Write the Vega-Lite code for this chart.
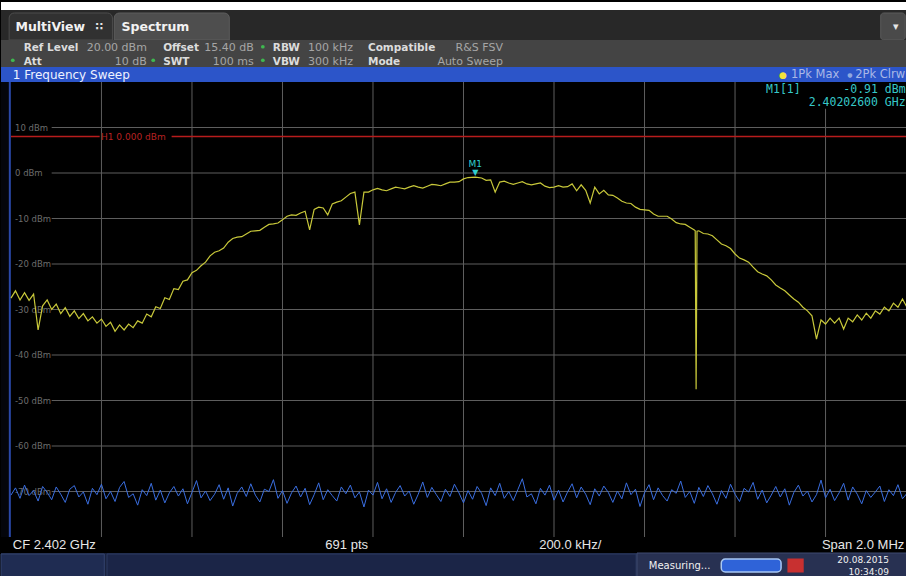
{
  "$schema": "https://vega.github.io/schema/vega-lite/v6.json",
  "padding": 0,
  "spacing": 0,
  "bounds": "flush",
  "background": "#000000",
  "config": {"view": {"stroke": null}, "text": {"font": "DejaVu Sans"}},
  "datasets": {
    "maxhold": [
      {"freq": 2401.00, "dbm": -27.5}, {"freq": 2401.01, "dbm": -25.9}, {"freq": 2401.02, "dbm": -27.9}, {"freq": 2401.03, "dbm": -26.3},
      {"freq": 2401.04, "dbm": -28.0}, {"freq": 2401.05, "dbm": -26.6}, {"freq": 2401.06, "dbm": -34.5}, {"freq": 2401.07, "dbm": -29.2},
      {"freq": 2401.08, "dbm": -27.9}, {"freq": 2401.09, "dbm": -30.0}, {"freq": 2401.10, "dbm": -28.8}, {"freq": 2401.11, "dbm": -30.9},
      {"freq": 2401.12, "dbm": -29.6}, {"freq": 2401.13, "dbm": -31.5}, {"freq": 2401.14, "dbm": -30.3}, {"freq": 2401.15, "dbm": -32.0},
      {"freq": 2401.16, "dbm": -30.9}, {"freq": 2401.17, "dbm": -32.5}, {"freq": 2401.18, "dbm": -31.6}, {"freq": 2401.19, "dbm": -33.0},
      {"freq": 2401.20, "dbm": -32.1}, {"freq": 2401.21, "dbm": -33.7}, {"freq": 2401.22, "dbm": -32.8}, {"freq": 2401.23, "dbm": -34.8},
      {"freq": 2401.24, "dbm": -33.4}, {"freq": 2401.25, "dbm": -34.5}, {"freq": 2401.26, "dbm": -33.2}, {"freq": 2401.27, "dbm": -34.0},
      {"freq": 2401.28, "dbm": -32.5}, {"freq": 2401.29, "dbm": -33.0}, {"freq": 2401.30, "dbm": -31.0}, {"freq": 2401.31, "dbm": -31.6},
      {"freq": 2401.32, "dbm": -29.4}, {"freq": 2401.33, "dbm": -29.8}, {"freq": 2401.34, "dbm": -27.4}, {"freq": 2401.35, "dbm": -27.8},
      {"freq": 2401.36, "dbm": -25.4}, {"freq": 2401.37, "dbm": -25.6}, {"freq": 2401.38, "dbm": -23.8}, {"freq": 2401.39, "dbm": -23.5},
      {"freq": 2401.40, "dbm": -21.9}, {"freq": 2401.41, "dbm": -21.4}, {"freq": 2401.42, "dbm": -20.4}, {"freq": 2401.43, "dbm": -19.6},
      {"freq": 2401.44, "dbm": -18.2}, {"freq": 2401.45, "dbm": -17.4}, {"freq": 2401.46, "dbm": -17.1}, {"freq": 2401.47, "dbm": -16.5},
      {"freq": 2401.48, "dbm": -15.2}, {"freq": 2401.49, "dbm": -14.4}, {"freq": 2401.50, "dbm": -14.1}, {"freq": 2401.51, "dbm": -14.0},
      {"freq": 2401.52, "dbm": -13.4}, {"freq": 2401.53, "dbm": -12.8}, {"freq": 2401.54, "dbm": -12.7}, {"freq": 2401.55, "dbm": -12.6},
      {"freq": 2401.56, "dbm": -11.9}, {"freq": 2401.57, "dbm": -11.3}, {"freq": 2401.58, "dbm": -11.2}, {"freq": 2401.59, "dbm": -11.0},
      {"freq": 2401.60, "dbm": -10.3}, {"freq": 2401.61, "dbm": -9.5}, {"freq": 2401.62, "dbm": -9.2}, {"freq": 2401.63, "dbm": -9.3},
      {"freq": 2401.64, "dbm": -8.8}, {"freq": 2401.65, "dbm": -8.4}, {"freq": 2401.66, "dbm": -12.5}, {"freq": 2401.67, "dbm": -8.0},
      {"freq": 2401.68, "dbm": -7.5}, {"freq": 2401.69, "dbm": -7.7}, {"freq": 2401.70, "dbm": -9.2}, {"freq": 2401.71, "dbm": -6.8},
      {"freq": 2401.72, "dbm": -6.4}, {"freq": 2401.73, "dbm": -6.1}, {"freq": 2401.74, "dbm": -5.3}, {"freq": 2401.75, "dbm": -4.5},
      {"freq": 2401.76, "dbm": -4.2}, {"freq": 2401.77, "dbm": -11.4}, {"freq": 2401.78, "dbm": -4.2}, {"freq": 2401.79, "dbm": -4.2},
      {"freq": 2401.80, "dbm": -3.7}, {"freq": 2401.81, "dbm": -3.4}, {"freq": 2401.82, "dbm": -3.7}, {"freq": 2401.83, "dbm": -3.9},
      {"freq": 2401.84, "dbm": -3.5}, {"freq": 2401.85, "dbm": -3.1}, {"freq": 2401.86, "dbm": -3.3}, {"freq": 2401.87, "dbm": -3.5},
      {"freq": 2401.88, "dbm": -3.1}, {"freq": 2401.89, "dbm": -2.8}, {"freq": 2401.90, "dbm": -3.1}, {"freq": 2401.91, "dbm": -3.3},
      {"freq": 2401.92, "dbm": -2.9}, {"freq": 2401.93, "dbm": -2.5}, {"freq": 2401.94, "dbm": -2.6}, {"freq": 2401.95, "dbm": -2.8},
      {"freq": 2401.96, "dbm": -2.4}, {"freq": 2401.97, "dbm": -2.0}, {"freq": 2401.98, "dbm": -2.0}, {"freq": 2401.99, "dbm": -1.9},
      {"freq": 2402.00, "dbm": -1.3}, {"freq": 2402.01, "dbm": -1.0}, {"freq": 2402.026, "dbm": -0.91}, {"freq": 2402.04, "dbm": -1.1},
      {"freq": 2402.05, "dbm": -1.6}, {"freq": 2402.06, "dbm": -1.5}, {"freq": 2402.07, "dbm": -4.2}, {"freq": 2402.08, "dbm": -2.0},
      {"freq": 2402.09, "dbm": -1.8}, {"freq": 2402.10, "dbm": -2.2}, {"freq": 2402.11, "dbm": -2.5}, {"freq": 2402.12, "dbm": -2.2},
      {"freq": 2402.13, "dbm": -1.9}, {"freq": 2402.14, "dbm": -2.4}, {"freq": 2402.15, "dbm": -2.6}, {"freq": 2402.16, "dbm": -2.4},
      {"freq": 2402.17, "dbm": -2.2}, {"freq": 2402.18, "dbm": -2.9}, {"freq": 2402.19, "dbm": -3.2}, {"freq": 2402.20, "dbm": -3.1},
      {"freq": 2402.21, "dbm": -2.8}, {"freq": 2402.22, "dbm": -3.1}, {"freq": 2402.23, "dbm": -3.0}, {"freq": 2402.24, "dbm": -2.4},
      {"freq": 2402.25, "dbm": -3.9}, {"freq": 2402.26, "dbm": -2.6}, {"freq": 2402.27, "dbm": -3.8}, {"freq": 2402.28, "dbm": -6.6},
      {"freq": 2402.29, "dbm": -3.1}, {"freq": 2402.30, "dbm": -4.6}, {"freq": 2402.31, "dbm": -3.8}, {"freq": 2402.32, "dbm": -4.8},
      {"freq": 2402.33, "dbm": -4.9}, {"freq": 2402.34, "dbm": -5.5}, {"freq": 2402.35, "dbm": -6.2}, {"freq": 2402.36, "dbm": -6.6},
      {"freq": 2402.37, "dbm": -6.7}, {"freq": 2402.38, "dbm": -7.5}, {"freq": 2402.39, "dbm": -8.0}, {"freq": 2402.40, "dbm": -8.1},
      {"freq": 2402.41, "dbm": -8.2}, {"freq": 2402.42, "dbm": -9.0}, {"freq": 2402.43, "dbm": -9.5}, {"freq": 2402.44, "dbm": -9.5},
      {"freq": 2402.45, "dbm": -9.5}, {"freq": 2402.46, "dbm": -10.1}, {"freq": 2402.47, "dbm": -10.9}, {"freq": 2402.48, "dbm": -11.2},
      {"freq": 2402.49, "dbm": -11.3}, {"freq": 2402.50, "dbm": -11.9}, {"freq": 2402.51, "dbm": -12.5},
      {"freq": 2402.512, "dbm": -12.7}, {"freq": 2402.514, "dbm": -47.5}, {"freq": 2402.516, "dbm": -12.8}, {"freq": 2402.52, "dbm": -12.7},
      {"freq": 2402.53, "dbm": -13.3}, {"freq": 2402.54, "dbm": -13.4}, {"freq": 2402.55, "dbm": -13.8}, {"freq": 2402.56, "dbm": -14.7},
      {"freq": 2402.57, "dbm": -15.6}, {"freq": 2402.58, "dbm": -16.0}, {"freq": 2402.59, "dbm": -16.6}, {"freq": 2402.60, "dbm": -17.8},
      {"freq": 2402.61, "dbm": -18.7}, {"freq": 2402.62, "dbm": -19.1}, {"freq": 2402.63, "dbm": -19.6}, {"freq": 2402.64, "dbm": -20.7},
      {"freq": 2402.65, "dbm": -21.7}, {"freq": 2402.66, "dbm": -22.2}, {"freq": 2402.67, "dbm": -22.6}, {"freq": 2402.68, "dbm": -23.5},
      {"freq": 2402.69, "dbm": -24.6}, {"freq": 2402.70, "dbm": -25.3}, {"freq": 2402.71, "dbm": -25.9}, {"freq": 2402.72, "dbm": -26.8},
      {"freq": 2402.73, "dbm": -27.7}, {"freq": 2402.74, "dbm": -28.4}, {"freq": 2402.75, "dbm": -29.5}, {"freq": 2402.76, "dbm": -30.3},
      {"freq": 2402.77, "dbm": -31.4}, {"freq": 2402.78, "dbm": -36.5}, {"freq": 2402.79, "dbm": -32.3}, {"freq": 2402.80, "dbm": -33.2},
      {"freq": 2402.81, "dbm": -31.9}, {"freq": 2402.82, "dbm": -33.0}, {"freq": 2402.83, "dbm": -31.9}, {"freq": 2402.84, "dbm": -34.3},
      {"freq": 2402.85, "dbm": -31.9}, {"freq": 2402.86, "dbm": -32.7}, {"freq": 2402.87, "dbm": -31.2}, {"freq": 2402.88, "dbm": -32.3},
      {"freq": 2402.89, "dbm": -30.8}, {"freq": 2402.90, "dbm": -31.9}, {"freq": 2402.91, "dbm": -30.3}, {"freq": 2402.92, "dbm": -31.0},
      {"freq": 2402.93, "dbm": -29.5}, {"freq": 2402.94, "dbm": -30.3}, {"freq": 2402.95, "dbm": -28.6}, {"freq": 2402.96, "dbm": -29.5},
      {"freq": 2402.97, "dbm": -27.7}, {"freq": 2402.98, "dbm": -29.5}, {"freq": 2402.99, "dbm": -28.0}, {"freq": 2403.00, "dbm": -28.5}
    ],
    "clearwrite": [
      {"freq": 2401.00, "dbm": -70.8}, {"freq": 2401.01, "dbm": -69.2}, {"freq": 2401.02, "dbm": -71.5}, {"freq": 2401.03, "dbm": -68.6}, {"freq": 2401.04, "dbm": -70.9},
      {"freq": 2401.05, "dbm": -69.8}, {"freq": 2401.06, "dbm": -72.1}, {"freq": 2401.07, "dbm": -68.9}, {"freq": 2401.08, "dbm": -70.2}, {"freq": 2401.09, "dbm": -71.8},
      {"freq": 2401.10, "dbm": -69.0}, {"freq": 2401.11, "dbm": -70.6}, {"freq": 2401.12, "dbm": -72.4}, {"freq": 2401.13, "dbm": -69.5}, {"freq": 2401.14, "dbm": -68.7},
      {"freq": 2401.15, "dbm": -71.2}, {"freq": 2401.16, "dbm": -70.1}, {"freq": 2401.17, "dbm": -72.8}, {"freq": 2401.18, "dbm": -69.3}, {"freq": 2401.19, "dbm": -70.7},
      {"freq": 2401.20, "dbm": -68.4}, {"freq": 2401.21, "dbm": -71.6}, {"freq": 2401.22, "dbm": -70.0}, {"freq": 2401.23, "dbm": -72.2}, {"freq": 2401.24, "dbm": -69.1},
      {"freq": 2401.25, "dbm": -67.8}, {"freq": 2401.26, "dbm": -71.3}, {"freq": 2401.27, "dbm": -70.5}, {"freq": 2401.28, "dbm": -73.0}, {"freq": 2401.29, "dbm": -69.6},
      {"freq": 2401.30, "dbm": -70.9}, {"freq": 2401.31, "dbm": -68.2}, {"freq": 2401.32, "dbm": -71.9}, {"freq": 2401.33, "dbm": -69.7}, {"freq": 2401.34, "dbm": -72.5},
      {"freq": 2401.35, "dbm": -70.3}, {"freq": 2401.36, "dbm": -68.9}, {"freq": 2401.37, "dbm": -71.0}, {"freq": 2401.38, "dbm": -69.4}, {"freq": 2401.39, "dbm": -72.7},
      {"freq": 2401.40, "dbm": -70.2}, {"freq": 2401.41, "dbm": -67.6}, {"freq": 2401.42, "dbm": -71.4}, {"freq": 2401.43, "dbm": -69.9}, {"freq": 2401.44, "dbm": -72.0},
      {"freq": 2401.45, "dbm": -70.6}, {"freq": 2401.46, "dbm": -68.5}, {"freq": 2401.47, "dbm": -71.7}, {"freq": 2401.48, "dbm": -69.2}, {"freq": 2401.49, "dbm": -73.2},
      {"freq": 2401.50, "dbm": -70.4}, {"freq": 2401.51, "dbm": -69.0}, {"freq": 2401.52, "dbm": -71.1}, {"freq": 2401.53, "dbm": -68.3}, {"freq": 2401.54, "dbm": -70.8},
      {"freq": 2401.55, "dbm": -72.3}, {"freq": 2401.56, "dbm": -69.5}, {"freq": 2401.57, "dbm": -70.0}, {"freq": 2401.58, "dbm": -67.4}, {"freq": 2401.59, "dbm": -71.5},
      {"freq": 2401.60, "dbm": -69.8}, {"freq": 2401.61, "dbm": -72.6}, {"freq": 2401.62, "dbm": -70.3}, {"freq": 2401.63, "dbm": -68.8}, {"freq": 2401.64, "dbm": -71.2},
      {"freq": 2401.65, "dbm": -69.3}, {"freq": 2401.66, "dbm": -72.9}, {"freq": 2401.67, "dbm": -70.7}, {"freq": 2401.68, "dbm": -68.1}, {"freq": 2401.69, "dbm": -71.8},
      {"freq": 2401.70, "dbm": -69.6}, {"freq": 2401.71, "dbm": -70.9}, {"freq": 2401.72, "dbm": -72.1}, {"freq": 2401.73, "dbm": -69.0}, {"freq": 2401.74, "dbm": -70.5},
      {"freq": 2401.75, "dbm": -68.6}, {"freq": 2401.76, "dbm": -71.4}, {"freq": 2401.77, "dbm": -70.1}, {"freq": 2401.78, "dbm": -73.4}, {"freq": 2401.79, "dbm": -69.7},
      {"freq": 2401.80, "dbm": -70.8}, {"freq": 2401.81, "dbm": -68.0}, {"freq": 2401.82, "dbm": -71.6}, {"freq": 2401.83, "dbm": -69.4}, {"freq": 2401.84, "dbm": -72.4},
      {"freq": 2401.85, "dbm": -70.2}, {"freq": 2401.86, "dbm": -68.7}, {"freq": 2401.87, "dbm": -71.0}, {"freq": 2401.88, "dbm": -69.9}, {"freq": 2401.89, "dbm": -72.8},
      {"freq": 2401.90, "dbm": -70.6}, {"freq": 2401.91, "dbm": -67.9}, {"freq": 2401.92, "dbm": -71.3}, {"freq": 2401.93, "dbm": -69.1}, {"freq": 2401.94, "dbm": -70.7},
      {"freq": 2401.95, "dbm": -72.2}, {"freq": 2401.96, "dbm": -69.5}, {"freq": 2401.97, "dbm": -71.1}, {"freq": 2401.98, "dbm": -68.4}, {"freq": 2401.99, "dbm": -70.3},
      {"freq": 2402.00, "dbm": -72.5}, {"freq": 2402.01, "dbm": -69.8}, {"freq": 2402.02, "dbm": -71.7}, {"freq": 2402.03, "dbm": -68.9}, {"freq": 2402.04, "dbm": -70.4},
      {"freq": 2402.05, "dbm": -73.1}, {"freq": 2402.06, "dbm": -69.2}, {"freq": 2402.07, "dbm": -70.9}, {"freq": 2402.08, "dbm": -68.2}, {"freq": 2402.09, "dbm": -71.5},
      {"freq": 2402.10, "dbm": -70.0}, {"freq": 2402.11, "dbm": -72.0}, {"freq": 2402.12, "dbm": -69.6}, {"freq": 2402.13, "dbm": -67.2}, {"freq": 2402.14, "dbm": -71.2},
      {"freq": 2402.15, "dbm": -70.5}, {"freq": 2402.16, "dbm": -72.7}, {"freq": 2402.17, "dbm": -69.3}, {"freq": 2402.18, "dbm": -70.8}, {"freq": 2402.19, "dbm": -68.6},
      {"freq": 2402.20, "dbm": -71.9}, {"freq": 2402.21, "dbm": -69.7}, {"freq": 2402.22, "dbm": -72.3}, {"freq": 2402.23, "dbm": -70.1}, {"freq": 2402.24, "dbm": -68.3},
      {"freq": 2402.25, "dbm": -71.4}, {"freq": 2402.26, "dbm": -69.0}, {"freq": 2402.27, "dbm": -70.6}, {"freq": 2402.28, "dbm": -72.9}, {"freq": 2402.29, "dbm": -69.4},
      {"freq": 2402.30, "dbm": -71.0}, {"freq": 2402.31, "dbm": -68.8}, {"freq": 2402.32, "dbm": -70.2}, {"freq": 2402.33, "dbm": -72.4}, {"freq": 2402.34, "dbm": -69.9},
      {"freq": 2402.35, "dbm": -71.6}, {"freq": 2402.36, "dbm": -68.1}, {"freq": 2402.37, "dbm": -70.7}, {"freq": 2402.38, "dbm": -69.5}, {"freq": 2402.39, "dbm": -73.3},
      {"freq": 2402.40, "dbm": -70.3}, {"freq": 2402.41, "dbm": -68.5}, {"freq": 2402.42, "dbm": -71.8}, {"freq": 2402.43, "dbm": -69.2}, {"freq": 2402.44, "dbm": -70.9},
      {"freq": 2402.45, "dbm": -72.1}, {"freq": 2402.46, "dbm": -69.6}, {"freq": 2402.47, "dbm": -70.4}, {"freq": 2402.48, "dbm": -67.7}, {"freq": 2402.49, "dbm": -71.3},
      {"freq": 2402.50, "dbm": -70.0}, {"freq": 2402.51, "dbm": -72.6}, {"freq": 2402.52, "dbm": -69.1}, {"freq": 2402.53, "dbm": -71.1}, {"freq": 2402.54, "dbm": -68.7},
      {"freq": 2402.55, "dbm": -70.5}, {"freq": 2402.56, "dbm": -72.8}, {"freq": 2402.57, "dbm": -69.8}, {"freq": 2402.58, "dbm": -71.5}, {"freq": 2402.59, "dbm": -68.4},
      {"freq": 2402.60, "dbm": -70.6}, {"freq": 2402.61, "dbm": -72.2}, {"freq": 2402.62, "dbm": -69.3}, {"freq": 2402.63, "dbm": -70.1}, {"freq": 2402.64, "dbm": -68.0},
      {"freq": 2402.65, "dbm": -71.7}, {"freq": 2402.66, "dbm": -69.7}, {"freq": 2402.67, "dbm": -72.5}, {"freq": 2402.68, "dbm": -70.8}, {"freq": 2402.69, "dbm": -68.9},
      {"freq": 2402.70, "dbm": -71.2}, {"freq": 2402.71, "dbm": -69.4}, {"freq": 2402.72, "dbm": -73.0}, {"freq": 2402.73, "dbm": -70.2}, {"freq": 2402.74, "dbm": -68.6},
      {"freq": 2402.75, "dbm": -71.0}, {"freq": 2402.76, "dbm": -69.9}, {"freq": 2402.77, "dbm": -72.3}, {"freq": 2402.78, "dbm": -70.7}, {"freq": 2402.79, "dbm": -67.5},
      {"freq": 2402.80, "dbm": -71.4}, {"freq": 2402.81, "dbm": -69.5}, {"freq": 2402.82, "dbm": -72.0}, {"freq": 2402.83, "dbm": -70.3}, {"freq": 2402.84, "dbm": -68.2},
      {"freq": 2402.85, "dbm": -71.9}, {"freq": 2402.86, "dbm": -69.0}, {"freq": 2402.87, "dbm": -70.6}, {"freq": 2402.88, "dbm": -72.7}, {"freq": 2402.89, "dbm": -69.8},
      {"freq": 2402.90, "dbm": -71.3}, {"freq": 2402.91, "dbm": -70.1}, {"freq": 2402.92, "dbm": -68.8}, {"freq": 2402.93, "dbm": -72.2}, {"freq": 2402.94, "dbm": -69.6},
      {"freq": 2402.95, "dbm": -70.9}, {"freq": 2402.96, "dbm": -68.5}, {"freq": 2402.97, "dbm": -71.6}, {"freq": 2402.98, "dbm": -70.4}, {"freq": 2402.99, "dbm": -72.0},
      {"freq": 2403.00, "dbm": -69.7}
    ]
  },
  "vconcat": [
    {
      "width": 906, "height": 8,
      "view": {"fill": "#ffffff", "stroke": null},
      "data": {"values": [{"pos": 0}]},
      "mark": {"type": "text", "text": " "},
      "encoding": {"x": {"field": "pos", "type": "quantitative", "scale": {"domain": [0, 100]}, "axis": null}}
    },
    {
      "width": 906, "height": 3,
      "view": {"fill": "#282828", "stroke": null},
      "data": {"values": [{"pos": 0}]},
      "mark": {"type": "text", "text": " "},
      "encoding": {"x": {"field": "pos", "type": "quantitative", "scale": {"domain": [0, 100]}, "axis": null}}
    },
    {
      "width": 906, "height": 27,
      "view": {"fill": "#282828", "stroke": null},
      "encoding": {"x": {"field": "pos", "type": "quantitative", "scale": {"domain": [0, 100]}, "axis": null}},
      "layer": [
        {
          "data": {"values": [{"tab": "MultiView", "pos": 0.9, "end": 12.3}]},
          "mark": {"type": "rect", "fill": "#313131", "stroke": "#4c4c4c", "cornerRadiusTopLeft": 5, "cornerRadiusTopRight": 5},
          "encoding": {"x2": {"field": "end"}}
        },
        {
          "data": {"values": [{"tab": "Spectrum", "pos": 12.5, "end": 25.2}]},
          "mark": {"type": "rect", "fill": "#4e4e4e", "stroke": "#5c5c5c", "cornerRadiusTopLeft": 5, "cornerRadiusTopRight": 5},
          "encoding": {"x2": {"field": "end"}}
        },
        {
          "data": {"values": [{"tab": "menu", "pos": 97.1, "end": 99.8}]},
          "mark": {"type": "rect", "fill": "#4a4a4a", "stroke": "#5a5a5a", "cornerRadius": 3},
          "encoding": {"x2": {"field": "end"}}
        },
        {
          "data": {"values": [{"pos": 1.6, "label": "MultiView"}, {"pos": 13.3, "label": "Spectrum"}]},
          "mark": {"type": "text", "align": "left", "baseline": "middle", "fontWeight": "bold", "fontSize": 12.5, "color": "#f2f2f2"},
          "encoding": {"text": {"field": "label"}}
        },
        {
          "data": {"values": [{"pos": 10.4, "label": "∷"}, {"pos": 98.45, "label": "▾"}]},
          "mark": {"type": "text", "align": "left", "baseline": "middle", "fontWeight": "bold", "fontSize": 11, "color": "#e6e6e6"},
          "encoding": {"text": {"field": "label"}}
        }
      ]
    },
    {
      "width": 906, "height": 27,
      "view": {"fill": "#444444", "stroke": null},
      "encoding": {
        "x": {"field": "pos", "type": "quantitative", "scale": {"domain": [0, 100]}, "axis": null},
        "y": {"field": "line", "type": "ordinal", "scale": {"type": "point", "padding": 0.5}, "axis": null}
      },
      "layer": [
        {
          "data": {"values": [
            {"line": 1, "pos": 2.5, "label": "Ref Level"}, {"line": 1, "pos": 17.9, "label": "Offset"},
            {"line": 1, "pos": 30.0, "label": "RBW"}, {"line": 1, "pos": 40.5, "label": "Compatible"},
            {"line": 2, "pos": 2.5, "label": "Att"}, {"line": 2, "pos": 17.9, "label": "SWT"},
            {"line": 2, "pos": 30.0, "label": "VBW"}, {"line": 2, "pos": 40.5, "label": "Mode"}
          ]},
          "mark": {"type": "text", "align": "left", "baseline": "middle", "dy": 1.5, "fontWeight": "bold", "fontSize": 10.5, "color": "#dcdcdc"},
          "encoding": {"text": {"field": "label"}}
        },
        {
          "data": {"values": [
            {"line": 1, "pos": 16.1, "label": "20.00 dBm"}, {"line": 1, "pos": 27.9, "label": "15.40 dB"},
            {"line": 1, "pos": 38.85, "label": "100 kHz"}, {"line": 1, "pos": 55.4, "label": "R&S FSV"},
            {"line": 2, "pos": 16.1, "label": "10 dB"}, {"line": 2, "pos": 27.9, "label": "100 ms"},
            {"line": 2, "pos": 38.85, "label": "300 kHz"}, {"line": 2, "pos": 55.4, "label": "Auto Sweep"}
          ]},
          "mark": {"type": "text", "align": "right", "baseline": "middle", "dy": 1.5, "fontSize": 11, "color": "#a6a6a6"},
          "encoding": {"text": {"field": "label"}}
        },
        {
          "data": {"values": [{"line": 1, "pos": 28.9}, {"line": 2, "pos": 1.3}, {"line": 2, "pos": 16.8}, {"line": 2, "pos": 28.9}]},
          "mark": {"type": "point", "shape": "circle", "filled": true, "size": 14, "color": "#3fb850", "opacity": 1}
        }
      ]
    },
    {
      "width": 906, "height": 15,
      "view": {"fill": "#2c55c9", "stroke": null},
      "encoding": {"x": {"field": "pos", "type": "quantitative", "scale": {"domain": [0, 100]}, "axis": null}},
      "layer": [
        {
          "data": {"values": [{"pos": 1.3, "label": "1 Frequency Sweep"}]},
          "mark": {"type": "text", "align": "left", "baseline": "middle", "fontSize": 12, "color": "#eef2ff"},
          "encoding": {"text": {"field": "label"}}
        },
        {
          "data": {"values": [{"pos": 86.3, "label": "●"}]},
          "mark": {"type": "text", "align": "center", "baseline": "middle", "fontSize": 9, "color": "#f2e23a"},
          "encoding": {"text": {"field": "label"}}
        },
        {
          "data": {"values": [{"pos": 93.7, "label": "●"}]},
          "mark": {"type": "text", "align": "center", "baseline": "middle", "fontSize": 6, "color": "#8fa8e0"},
          "encoding": {"text": {"field": "label"}}
        },
        {
          "data": {"values": [{"pos": 87.2, "label": "1Pk Max"}]},
          "mark": {"type": "text", "align": "left", "baseline": "middle", "fontSize": 11.5, "color": "#aab8e6"},
          "encoding": {"text": {"field": "label"}}
        },
        {
          "data": {"values": [{"pos": 99.8, "label": "2Pk Clrw"}]},
          "mark": {"type": "text", "align": "right", "baseline": "middle", "fontSize": 11.5, "color": "#aab8e6"},
          "encoding": {"text": {"field": "label"}}
        }
      ]
    },
    {
      "width": 906, "height": 455,
      "view": {"fill": "#000000", "stroke": null},
      "encoding": {
        "x": {"field": "freq", "type": "quantitative", "scale": {"domain": [2400.978, 2402.98], "nice": false, "zero": false}, "axis": null},
        "y": {"field": "dbm", "type": "quantitative", "scale": {"domain": [-80, 20], "nice": false, "zero": false}, "axis": null}
      },
      "layer": [
        {
          "data": {"values": [{"freq": 2400.978, "end": 2400.9985, "dbm": -80, "top": 20}]},
          "mark": {"type": "rect", "fill": "#04050b"},
          "encoding": {"x2": {"field": "end"}, "y2": {"field": "top"}}
        },
        {
          "data": {"values": [{"freq": 2400.9975, "dbm": -80, "top": 20}]},
          "mark": {"type": "rule", "color": "#2a48a8", "strokeWidth": 2},
          "encoding": {"y2": {"field": "top"}}
        },
        {
          "data": {"values": [
            {"freq": 2401.2, "dbm": -80, "top": 20}, {"freq": 2401.4, "dbm": -80, "top": 20}, {"freq": 2401.6, "dbm": -80, "top": 20},
            {"freq": 2401.8, "dbm": -80, "top": 20}, {"freq": 2402.0, "dbm": -80, "top": 20}, {"freq": 2402.2, "dbm": -80, "top": 20},
            {"freq": 2402.4, "dbm": -80, "top": 20}, {"freq": 2402.6, "dbm": -80, "top": 20}, {"freq": 2402.8, "dbm": -80, "top": 20}
          ]},
          "mark": {"type": "rule", "color": "#5e5e5e", "strokeWidth": 1},
          "encoding": {"y2": {"field": "top"}}
        },
        {
          "data": {"values": [
            {"freq": 2401.09, "end": 2403.0, "dbm": 10}, {"freq": 2401.09, "end": 2403.0, "dbm": 0},
            {"freq": 2401.09, "end": 2403.0, "dbm": -10}, {"freq": 2401.09, "end": 2403.0, "dbm": -20},
            {"freq": 2401.09, "end": 2403.0, "dbm": -30}, {"freq": 2401.09, "end": 2403.0, "dbm": -40},
            {"freq": 2401.09, "end": 2403.0, "dbm": -50}, {"freq": 2401.09, "end": 2403.0, "dbm": -60},
            {"freq": 2401.09, "end": 2403.0, "dbm": -70}
          ]},
          "mark": {"type": "rule", "color": "#5e5e5e", "strokeWidth": 1, "clip": true},
          "encoding": {"x2": {"field": "end"}}
        },
        {
          "data": {"values": [
            {"freq": 2401.009, "dbm": 10, "label": "10 dBm"}, {"freq": 2401.009, "dbm": 0, "label": "0 dBm"},
            {"freq": 2401.009, "dbm": -10, "label": "-10 dBm"}, {"freq": 2401.009, "dbm": -20, "label": "-20 dBm"},
            {"freq": 2401.009, "dbm": -30, "label": "-30 dBm"}, {"freq": 2401.009, "dbm": -40, "label": "-40 dBm"},
            {"freq": 2401.009, "dbm": -50, "label": "-50 dBm"}, {"freq": 2401.009, "dbm": -60, "label": "-60 dBm"},
            {"freq": 2401.009, "dbm": -70, "label": "-70 dBm"}
          ]},
          "mark": {"type": "text", "align": "left", "baseline": "middle", "fontSize": 8.5, "color": "#6c6c6c"},
          "encoding": {"text": {"field": "label"}}
        },
        {
          "data": {"values": [{"freq": 2401.0, "end": 2401.196, "dbm": 8}, {"freq": 2401.355, "end": 2403.0, "dbm": 8}]},
          "mark": {"type": "rule", "color": "#b81c1c", "strokeWidth": 1.5, "clip": true},
          "encoding": {"x2": {"field": "end"}}
        },
        {
          "data": {"values": [{"freq": 2401.199, "dbm": 8, "label": "H1  0.000 dBm"}]},
          "mark": {"type": "text", "align": "left", "baseline": "middle", "fontSize": 9, "color": "#b82222"},
          "encoding": {"text": {"field": "label"}}
        },
        {
          "data": {"values": [{"freq": 2402.657, "end": 2403.0, "dbm": 14.1, "top": 20}]},
          "mark": {"type": "rect", "fill": "#000000", "clip": true},
          "encoding": {"x2": {"field": "end"}, "y2": {"field": "top"}}
        },
        {
          "data": {"name": "clearwrite"},
          "mark": {"type": "line", "color": "#3a6ee0", "strokeWidth": 1, "clip": true}
        },
        {
          "data": {"name": "maxhold"},
          "mark": {"type": "line", "color": "#c8c83a", "strokeWidth": 1.2, "clip": true}
        },
        {
          "data": {"values": [{"freq": 2402.026, "dbm": -0.91, "label": "▼"}]},
          "mark": {"type": "text", "align": "center", "baseline": "bottom", "fontSize": 8, "color": "#2fd0d0"},
          "encoding": {"text": {"field": "label"}}
        },
        {
          "data": {"values": [{"freq": 2402.026, "dbm": -0.91, "label": "M1"}]},
          "mark": {"type": "text", "align": "center", "baseline": "bottom", "dy": -8, "fontSize": 9, "color": "#2fd0d0"},
          "encoding": {"text": {"field": "label"}}
        },
        {
          "data": {"values": [{"freq": 2402.6685, "dbm": 18.24, "label": "M1[1]"}]},
          "mark": {"type": "text", "align": "left", "baseline": "middle", "font": "DejaVu Sans Mono", "fontSize": 11.5, "color": "#36c8c8"},
          "encoding": {"text": {"field": "label"}}
        },
        {
          "data": {"values": [
            {"freq": 2402.977, "dbm": 18.24, "label": "-0.91 dBm"},
            {"freq": 2402.977, "dbm": 15.38, "label": "2.40202600 GHz"}
          ]},
          "mark": {"type": "text", "align": "right", "baseline": "middle", "font": "DejaVu Sans Mono", "fontSize": 11.5, "color": "#36c8c8"},
          "encoding": {"text": {"field": "label"}}
        }
      ]
    },
    {
      "width": 906, "height": 16,
      "view": {"fill": "#000000", "stroke": null},
      "encoding": {"x": {"field": "pos", "type": "quantitative", "scale": {"domain": [0, 100]}, "axis": null}},
      "layer": [
        {
          "data": {"values": [
            {"pos": 1.3, "label": "CF 2.402 GHz"}, {"pos": 35.8, "label": "691 pts"}, {"pos": 59.4, "label": "200.0 kHz/"}
          ]},
          "mark": {"type": "text", "align": "left", "baseline": "middle", "font": "Liberation Sans", "fontSize": 13, "color": "#e6e6e6"},
          "encoding": {"text": {"field": "label"}}
        },
        {
          "data": {"values": [{"pos": 99.7, "label": "Span 2.0 MHz"}]},
          "mark": {"type": "text", "align": "right", "baseline": "middle", "font": "Liberation Sans", "fontSize": 13, "color": "#e6e6e6"},
          "encoding": {"text": {"field": "label"}}
        }
      ]
    },
    {
      "width": 906, "height": 25,
      "view": {"fill": "#19223f", "stroke": null},
      "encoding": {
        "x": {"field": "pos", "type": "quantitative", "scale": {"domain": [0, 100]}, "axis": null},
        "y": {"field": "lvl", "type": "quantitative", "scale": {"domain": [0, 1], "reverse": true, "nice": false}, "axis": null}
      },
      "layer": [
        {
          "data": {"values": [{"pos": 0, "end": 11.4, "lvl": 0.04, "low": 0.98}]},
          "mark": {"type": "rect", "fill": "#1f2c52", "stroke": "#34446e"},
          "encoding": {"x2": {"field": "end"}, "y2": {"field": "low"}}
        },
        {
          "data": {"values": [{"pos": 11.7, "end": 70.1, "lvl": 0.04, "low": 0.98}]},
          "mark": {"type": "rect", "fill": "#1b2547", "stroke": "#2c3a62"},
          "encoding": {"x2": {"field": "end"}, "y2": {"field": "low"}}
        },
        {
          "data": {"values": [{"pos": 70.2, "end": 100, "lvl": 0.0, "low": 1.0}]},
          "mark": {"type": "rect", "fill": "#283152", "stroke": "#3e4a70"},
          "encoding": {"x2": {"field": "end"}, "y2": {"field": "low"}}
        },
        {
          "data": {"values": [{"pos": 79.5, "end": 86.1, "lvl": 0.24, "low": 0.76}]},
          "mark": {"type": "rect", "fill": "#2f63d8", "stroke": "#a8c8f4", "strokeWidth": 1.5, "cornerRadius": 4},
          "encoding": {"x2": {"field": "end"}, "y2": {"field": "low"}}
        },
        {
          "data": {"values": [{"pos": 86.8, "end": 88.6, "lvl": 0.22, "low": 0.78}]},
          "mark": {"type": "rect", "fill": "#c83030"},
          "encoding": {"x2": {"field": "end"}, "y2": {"field": "low"}}
        },
        {
          "data": {"values": [{"pos": 71.5, "lvl": 0.5, "label": "Measuring..."}]},
          "mark": {"type": "text", "align": "left", "baseline": "middle", "fontSize": 10, "color": "#f0f0f0"},
          "encoding": {"text": {"field": "label"}}
        },
        {
          "data": {"values": [{"pos": 98.0, "lvl": 0.27, "label": "20.08.2015"}, {"pos": 98.0, "lvl": 0.75, "label": "10:34:09"}]},
          "mark": {"type": "text", "align": "right", "baseline": "middle", "fontSize": 9, "color": "#f0f0f0"},
          "encoding": {"text": {"field": "label"}}
        }
      ]
    }
  ]
}
